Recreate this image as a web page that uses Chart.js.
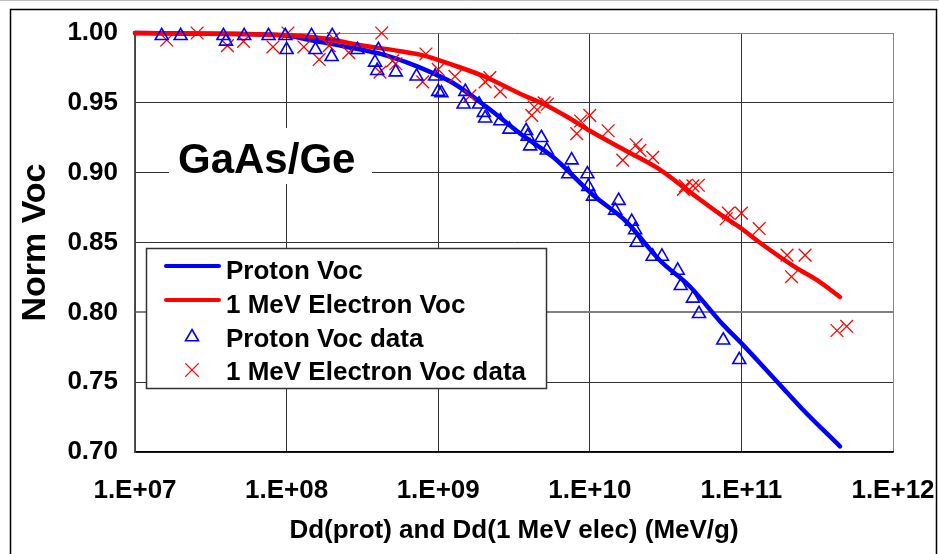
<!DOCTYPE html>
<html><head><meta charset="utf-8">
<script src="https://cdn.jsdelivr.net/npm/chart.js@4.4.1/dist/chart.umd.min.js"></script>
<style>html,body{margin:0;padding:0;background:#fff;}#wrap{position:relative;width:939px;height:554px;}</style>
</head><body><div id="wrap"><canvas id="c" width="939" height="554"></canvas></div>
<script>
const xTickValues = [1e7, 1e8, 1e9, 1e10, 1e11, 1e12];
const xTickLabels = ['1.E+07', '1.E+08', '1.E+09', '1.E+10', '1.E+11', '1.E+12'];
const yTickValues = [0.70, 0.75, 0.80, 0.85, 0.90, 0.95, 1.00];
const yTickLabels = ['0.70', '0.75', '0.80', '0.85', '0.90', '0.95', '1.00'];

const seriesLabels = ['Proton Voc', '1 MeV Electron Voc', 'Proton Voc data', '1 MeV Electron Voc data'];
const panelLabel = 'GaAs/Ge';
const xTitle = 'Dd(prot) and Dd(1 MeV elec) (MeV/g)';
const yTitle = 'Norm Voc';

const protonFitDose = [1e7, 3.16e7, 1e8, 1.58e8, 2.51e8, 4.17e8, 6.92e8, 9.33e8, 1.26e9, 2.09e9, 3.47e9, 5.75e9, 1.05e10, 1.74e10, 2.88e10, 4.57e10, 7.59e10, 9.77e10, 1.48e11, 2.51e11, 4.47e11];
const protonFitVoc  = [1.000, 0.9995, 0.998, 0.994, 0.990, 0.985, 0.977, 0.971, 0.964, 0.947, 0.928, 0.911, 0.884, 0.865, 0.8375, 0.8185, 0.791, 0.779, 0.758, 0.731, 0.704];

const electronFitDose = [1e7, 3.16e7, 1e8, 1.78e8, 3.16e8, 5.62e8, 7.94e8, 1.26e9, 2.0e9, 3.55e9, 5.0e9, 7.08e9, 1e10, 1.78e10, 2.82e10, 4.47e10, 7.08e10, 1e11, 1.32e11, 2.29e11, 3.16e11, 4.47e11];
const electronFitVoc  = [1.000, 0.9995, 0.9985, 0.996, 0.991, 0.987, 0.984, 0.977, 0.969, 0.956, 0.949, 0.940, 0.930, 0.915, 0.903, 0.887, 0.871, 0.860, 0.850, 0.832, 0.823, 0.811];

const protonDataDose = [1.5e7, 2.0e7, 3.83e7, 3.98e7, 5.25e7, 7.6e7, 9.8e7, 1.0e8, 1.46e8, 1.55e8, 2.0e8, 1.98e8, 2.93e8, 4.03e8, 3.83e8, 3.96e8, 5.25e8, 7.2e8, 9.55e8, 1.0e9, 1.05e9, 1.51e9, 1.47e9, 1.86e9, 2.0e9, 2.04e9, 2.57e9, 2.95e9, 3.8e9, 3.89e9, 4.79e9, 4.04e9, 5.2e9, 7.59e9, 7.21e9, 9.64e9, 9.77e9, 1.05e10, 1.55e10, 1.47e10, 1.89e10, 1.99e10, 2.04e10, 2.6e10, 2.99e10, 3.8e10, 3.98e10, 4.79e10, 5.25e10, 7.59e10, 9.68e10];
const protonDataVoc  = [0.998, 0.998, 0.998, 0.994, 0.998, 0.998, 0.998, 0.988, 0.998, 0.988, 0.998, 0.983, 0.988, 0.988, 0.979, 0.973, 0.972, 0.969, 0.969, 0.958, 0.957, 0.958, 0.949, 0.949, 0.943, 0.939, 0.937, 0.931, 0.930, 0.926, 0.925, 0.919, 0.916, 0.909, 0.899, 0.899, 0.890, 0.883, 0.880, 0.873, 0.865, 0.859, 0.850, 0.840, 0.840, 0.830, 0.819, 0.810, 0.799, 0.780, 0.766];

const electronDataDose = [1.62e7, 2.57e7, 4.07e7, 5.2e7, 8.13e7, 1.02e8, 1.30e8, 1.64e8, 2.04e8, 1.91e8, 2.57e8, 4.24e8, 4.13e8, 5.0e8, 5.25e8, 8.3e8, 7.9e8, 1.0e9, 1.29e9, 1.62e9, 2.04e9, 2.19e9, 2.57e9, 4.14e9, 4.3e9, 5.0e9, 5.25e9, 8.2e9, 8.7e9, 1.0e10, 1.32e10, 1.65e10, 2.02e10, 2.14e10, 2.6e10, 4.14e10, 4.27e10, 4.79e10, 5.2e10, 7.94e10, 8.2e10, 1.0e11, 1.31e11, 2.0e11, 2.14e11, 2.63e11, 4.27e11, 4.95e11];
const electronDataVoc  = [0.995, 1.000, 0.991, 0.994, 0.990, 1.000, 0.990, 0.981, 0.996, 0.991, 0.986, 1.000, 0.972, 0.980, 0.978, 0.985, 0.965, 0.974, 0.969, 0.955, 0.965, 0.968, 0.958, 0.941, 0.947, 0.950, 0.949, 0.928, 0.937, 0.941, 0.930, 0.909, 0.920, 0.916, 0.911, 0.888, 0.8905, 0.8905, 0.891, 0.867, 0.871, 0.871, 0.860, 0.841, 0.8255, 0.841, 0.787, 0.790];

const FONT = '"Liberation Sans", Arial, Helvetica, sans-serif';
const pts = (xs, ys) => xs.map((x, i) => ({x: x, y: ys[i]}));

const decor = {
  id: 'decor',
  beforeDraw(chart) {
    const ctx = chart.ctx;
    ctx.save(); ctx.fillStyle = '#fff'; ctx.fillRect(0, 0, chart.width, chart.height); ctx.restore();
  },
  beforeDatasetsDraw(chart) {
    const ctx = chart.ctx;
    ctx.save();
    ctx.fillStyle = '#fff';
    ctx.fillRect(169, 128, 203, 56);
    ctx.fillStyle = '#000';
    ctx.font = 'bold 42px ' + FONT;
    ctx.textBaseline = 'alphabetic';
    ctx.fillText(panelLabel, 178, 173);
    ctx.restore();
  },
  afterDraw(chart) {
    const ctx = chart.ctx;
    const ds = chart.data.datasets;
    ctx.save();
    ctx.fillStyle = '#fff';
    ctx.fillRect(146, 248, 401, 141);
    ctx.strokeStyle = '#333'; ctx.lineWidth = 1.5;
    ctx.strokeRect(146.5, 248.5, 400, 140);
    const rows = [270, 304, 338, 371];
    ctx.lineCap = 'round';
    for (let i = 0; i < 2; i++) {
      ctx.strokeStyle = ds[i].borderColor; ctx.lineWidth = 4;
      ctx.beginPath(); ctx.moveTo(166, rows[i] - 4); ctx.lineTo(219, rows[i] - 4); ctx.stroke();
    }
    for (let i = 2; i < 4; i++) {
      ctx.strokeStyle = ds[i].borderColor; ctx.lineWidth = ds[i].borderWidth; ctx.fillStyle = 'rgba(0,0,0,0)';
      Chart.helpers.drawPoint(ctx, {pointStyle: ds[i].pointStyle, radius: ds[i].pointRadius, rotation: 0, borderWidth: ds[i].borderWidth}, 192, rows[i] - 1);
    }
    ctx.fillStyle = '#000';
    ctx.font = 'bold 26px ' + FONT;
    ctx.textBaseline = 'alphabetic';
    for (let i = 0; i < 4; i++) ctx.fillText(seriesLabels[i], 226, rows[i] + 9.3);
    ctx.strokeStyle = '#000'; ctx.lineWidth = 1.5;
    ctx.strokeRect(10.5, 9.5, 926, 560);
    ctx.strokeStyle = '#c0c0c0'; ctx.lineWidth = 1;
    ctx.beginPath(); ctx.moveTo(0, 0.5); ctx.lineTo(939, 0.5); ctx.stroke();
    ctx.restore();
  }
};

new Chart(document.getElementById('c'), {
  type: 'scatter',
  data: {
    datasets: [
      {label: seriesLabels[0], data: pts(protonFitDose, protonFitVoc), showLine: true, borderColor: '#0000ff', borderWidth: 4.5, pointRadius: 0, cubicInterpolationMode: 'monotone', borderCapStyle: 'round', order: 2, clip: false},
      {label: seriesLabels[1], data: pts(electronFitDose, electronFitVoc), showLine: true, borderColor: '#ff0000', borderWidth: 4.5, pointRadius: 0, cubicInterpolationMode: 'monotone', borderCapStyle: 'round', order: 1, clip: false},
      {label: seriesLabels[2], data: pts(protonDataDose, protonDataVoc), showLine: false, pointStyle: 'triangle', pointRadius: 7.5, borderColor: '#0000ff', backgroundColor: 'rgba(0,0,0,0)', borderWidth: 1.6, order: 0, clip: false},
      {label: seriesLabels[3], data: pts(electronDataDose, electronDataVoc), showLine: false, pointStyle: 'crossRot', pointRadius: 9, borderColor: '#ff0000', backgroundColor: 'rgba(0,0,0,0)', borderWidth: 1.3, order: 0, clip: false}
    ]
  },
  options: {
    responsive: false,
    animation: false,
    devicePixelRatio: 1,
    layout: {padding: {top: 33, right: 46, bottom: 0, left: 0}},
    plugins: {legend: {display: false}, tooltip: {enabled: false}},
    scales: {
      x: {
        type: 'logarithmic', min: 1e7, max: 1e12,
        afterBuildTicks: s => { s.ticks = xTickValues.map(v => ({value: v})); },
        afterFit: s => { s.height = 102; s.paddingLeft = 0; s.paddingRight = 0; },
        ticks: {callback: (v, i) => xTickLabels[i], autoSkip: false, maxRotation: 0, minRotation: 0, padding: 23, color: '#000', font: {family: FONT, size: 26, weight: 'bold'}},
        grid: {drawTicks: false, lineWidth: 1, color: c => (c.tick && c.tick.value === 1e12) ? '#888' : '#333'},
        border: {color: '#000', width: 1.5},
        title: {display: true, text: xTitle, color: '#000', font: {family: FONT, size: 26, weight: 'bold'}, padding: {top: 0, bottom: 8}}
      },
      y: {
        type: 'linear', min: 0.70, max: 1.00,
        afterBuildTicks: s => { s.ticks = yTickValues.map(v => ({value: v})); },
        afterFit: s => { s.width = 135; },
        ticks: {callback: (v, i) => yTickLabels[i], padding: 17, color: '#000', font: {family: FONT, size: 26, weight: 'bold'}},
        grid: {drawTicks: false,
          lineWidth: c => (c.tick && Math.abs(c.tick.value - 0.80) < 1e-9) ? 2 : 1,
          color: c => (c.tick && (Math.abs(c.tick.value - 1.0) < 1e-9 || Math.abs(c.tick.value - 0.80) < 1e-9)) ? '#808080' : '#333'},
        border: {color: '#555', width: 1.5},
        title: {display: true, text: yTitle, color: '#000', font: {family: FONT, size: 34, weight: 'bold'}, padding: {top: 15, bottom: 0}}
      }
    }
  },
  plugins: [decor]
});
</script></body></html>
